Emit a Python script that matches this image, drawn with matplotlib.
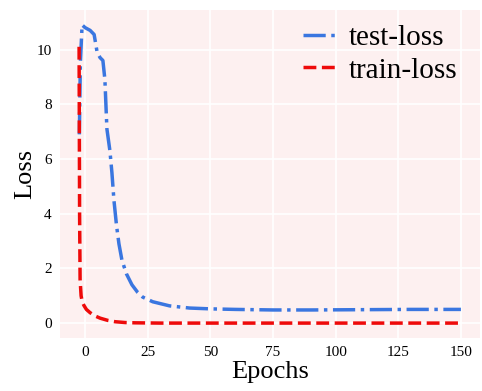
import numpy as np
import matplotlib
matplotlib.use('Agg')
import matplotlib.pyplot as plt

# values
test_epochs = [-2.3, -1.9, -1.2, 0, 2, 3.6, 4.8, 6, 7.1, 7.9, 8.7, 9.9, 10.7, 11.5, 12.5,
               13.5, 14.7, 16.5, 18.7, 21, 23, 27, 33.7, 41.7, 50, 60, 75, 90, 110, 130, 150]
test_loss = [6.9, 9.5, 10.9, 10.8, 10.7, 10.55, 9.9, 9.7, 9.6, 8.9, 7.1, 6.3, 5.5, 4.5, 3.6,
             2.9, 2.3, 1.8, 1.4, 1.12, 0.95, 0.78, 0.63, 0.55, 0.52, 0.5, 0.48, 0.48, 0.49, 0.5, 0.5]

train_epochs = [-2.4, -2.3, -2.2, -2.0, -1.6, -1.2, -0.5, 0.5, 2, 4, 6, 9, 12, 16, 20,
                30, 50, 75, 100, 125, 150]
train_loss = [10.1, 7.0, 4.0, 1.6, 1.0, 0.8, 0.65, 0.5, 0.38, 0.26, 0.18, 0.1, 0.05, 0.02, 0.01,
              0.0, 0.0, 0.0, 0.0, 0.0, 0.0]

plt.rcParams['font.family'] = ['Liberation Serif', 'DejaVu Serif']

fig = plt.figure(figsize=(4.82, 3.91), dpi=100)
ax = fig.add_axes([60/482, 1-338/391, 420/482, 328/391])
ax.set_facecolor('#fdf0f0')
ax.grid(True, color='white', linewidth=1.2)
ax.set_axisbelow(True)
for s in ax.spines.values():
    s.set_visible(False)

ax.plot(test_epochs, test_loss, color='#3a76e0', linestyle='-.', linewidth=2.5, label='test-loss')
ax.plot(train_epochs, train_loss, color='#ee0a0a', linestyle='--', linewidth=2.5, label='train-loss')

ax.set_xticks([0, 25, 50, 75, 100, 125, 150])
ax.set_yticks([0, 2, 4, 6, 8, 10])
ax.tick_params(length=0, labelsize=11, pad=6)
ax.set_xlabel('Epochs', fontsize=19, labelpad=1)
ax.set_ylabel('Loss', fontsize=19, labelpad=0)

ax.legend(loc='upper right', frameon=False, fontsize=21, handlelength=1.1,
          handletextpad=0.5, labelspacing=0.2, borderaxespad=0.0,
          bbox_to_anchor=(0.975, 0.99))

fig.savefig('out.png', dpi=100)
